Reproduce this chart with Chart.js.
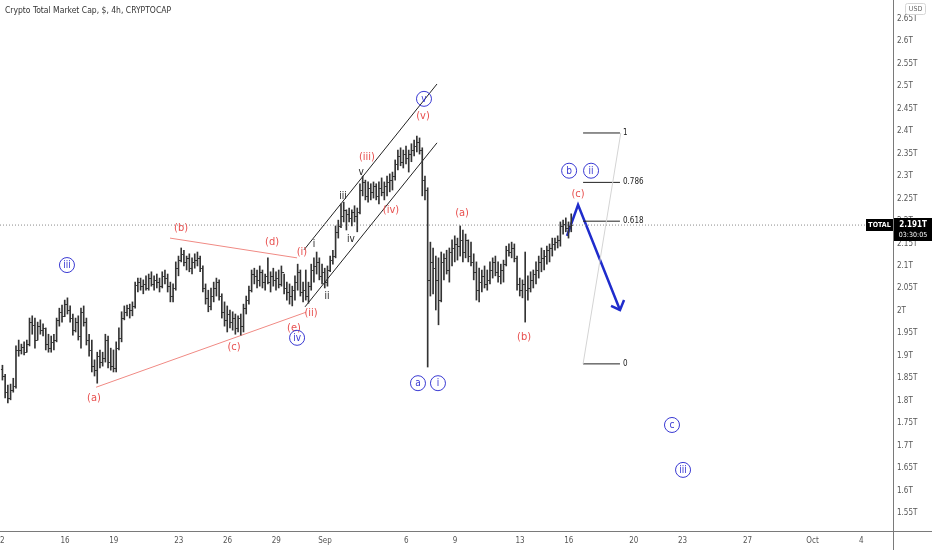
<!DOCTYPE html>
<html>
<head>
<meta charset="utf-8">
<script src="https://cdn.jsdelivr.net/npm/chart.js@4.4.0/dist/chart.umd.min.js"></script>
<style>
  html, body { margin: 0; padding: 0; background: #fff; overflow: hidden; }
</style>
</head>
<body>
<canvas id="chart" width="932" height="550"></canvas>
<script>
const title = 'Crypto Total Market Cap, $, 4h, CRYPTOCAP';

// 4h bars, x counted in days from Aug 12
const firstBarDay = 0.15;
const barsPerDay = 6;
const firstOpen = 1.870;

const highs = [
  1.879,1.859,1.835,1.837,1.850,1.922, 1.935,1.926,1.931,1.935,1.984,1.989,
  1.984,1.975,1.980,1.971,1.962,1.948, 1.944,1.948,1.984,2.006,2.013,2.024,
  2.029,2.011,1.993,1.984,1.989,2.006, 2.011,1.984,1.948,1.935,1.891,1.908,
  1.913,1.908,1.948,1.944,1.917,1.913, 1.931,1.962,1.998,2.011,2.013,2.015,
  2.020,2.064,2.073,2.073,2.069,2.078, 2.082,2.087,2.078,2.082,2.073,2.087,
  2.091,2.082,2.064,2.060,2.109,2.122, 2.140,2.135,2.122,2.127,2.118,2.127,
  2.131,2.122,2.100,2.060,2.046,2.051, 2.064,2.073,2.069,2.038,2.020,2.011,
  2.002,1.998,1.993,1.989,1.993,2.015, 2.033,2.055,2.091,2.095,2.091,2.100,
  2.091,2.082,2.118,2.087,2.095,2.087, 2.091,2.100,2.082,2.064,2.060,2.055,
  2.078,2.104,2.091,2.064,2.091,2.064, 2.104,2.118,2.131,2.118,2.104,2.095,
  2.100,2.122,2.135,2.189,2.202,2.238, 2.242,2.225,2.229,2.225,2.234,2.229,
  2.283,2.300,2.291,2.287,2.283,2.287, 2.283,2.287,2.296,2.287,2.300,2.305,
  2.309,2.336,2.358,2.363,2.358,2.367, 2.358,2.372,2.380,2.389,2.385,2.363,
  2.300,2.274,2.153,2.140,2.122,2.118, 2.131,2.127,2.135,2.140,2.158,2.167,
  2.162,2.189,2.180,2.171,2.158,2.153, 2.127,2.109,2.095,2.091,2.100,2.091,
  2.109,2.118,2.122,2.109,2.104,2.113, 2.144,2.149,2.153,2.149,2.122,2.073,
  2.069,2.131,2.078,2.087,2.091,2.109, 2.122,2.140,2.135,2.144,2.149,2.162,
  2.162,2.167,2.198,2.202,2.207,2.198, 2.216
];
const lows = [
  1.846,1.806,1.795,1.802,1.819,1.828, 1.899,1.904,1.902,1.908,1.922,1.948,
  1.917,1.935,1.948,1.944,1.913,1.908, 1.908,1.913,1.931,1.966,1.975,1.987,
  1.993,1.975,1.946,1.953,1.935,1.917, 1.966,1.924,1.899,1.864,1.855,1.839,
  1.873,1.877,1.886,1.873,1.868,1.864, 1.864,1.913,1.931,1.980,1.989,1.984,
  1.989,2.006,2.042,2.046,2.038,2.046, 2.046,2.055,2.046,2.051,2.042,2.051,
  2.060,2.042,2.020,2.020,2.046,2.078, 2.109,2.100,2.091,2.087,2.082,2.095,
  2.100,2.087,2.042,2.015,1.998,2.002, 2.020,2.033,2.024,1.984,1.966,1.953,
  1.962,1.957,1.948,1.953,1.946,1.953, 1.993,2.015,2.042,2.060,2.051,2.055,
  2.051,2.046,2.060,2.042,2.055,2.046, 2.051,2.055,2.038,2.024,2.015,2.011,
  2.024,2.046,2.033,2.020,2.024,2.017, 2.046,2.064,2.082,2.069,2.060,2.051,
  2.055,2.087,2.104,2.118,2.162,2.185, 2.198,2.180,2.198,2.189,2.198,2.176,
  2.216,2.256,2.247,2.242,2.247,2.251, 2.247,2.238,2.256,2.247,2.256,2.265,
  2.269,2.291,2.314,2.323,2.318,2.327, 2.309,2.332,2.345,2.354,2.349,2.256,
  2.247,1.875,2.033,2.038,2.002,1.969, 2.020,2.069,2.082,2.064,2.100,2.109,
  2.113,2.122,2.109,2.118,2.109,2.100, 2.069,2.024,2.020,2.042,2.051,2.046,
  2.060,2.073,2.078,2.064,2.060,2.064, 2.100,2.122,2.118,2.109,2.046,2.033,
  2.029,1.975,2.024,2.042,2.051,2.060, 2.073,2.087,2.091,2.104,2.109,2.122,
  2.135,2.140,2.144,2.171,2.176,2.162, 2.176
];
const closes = [
  1.855,1.819,1.806,1.824,1.833,1.913, 1.913,1.920,1.908,1.926,1.975,1.969,
  1.935,1.966,1.957,1.962,1.926,1.917, 1.931,1.935,1.980,1.998,1.989,2.015,
  2.002,1.984,1.957,1.975,1.944,1.998, 1.975,1.935,1.913,1.877,1.868,1.899,
  1.886,1.895,1.935,1.886,1.877,1.873, 1.917,1.940,1.984,1.998,2.006,2.002,
  2.011,2.058,2.064,2.055,2.060,2.051, 2.073,2.060,2.069,2.064,2.055,2.078,
  2.073,2.055,2.033,2.051,2.095,2.113, 2.127,2.109,2.118,2.095,2.109,2.113,
  2.118,2.095,2.051,2.029,2.011,2.033, 2.051,2.064,2.033,1.998,1.980,1.993,
  1.975,1.984,1.962,1.984,1.966,2.006, 2.024,2.046,2.082,2.078,2.069,2.087,
  2.064,2.078,2.064,2.078,2.069,2.073, 2.060,2.087,2.051,2.042,2.033,2.046,
  2.064,2.087,2.042,2.046,2.033,2.055, 2.091,2.100,2.109,2.078,2.087,2.064,
  2.091,2.113,2.122,2.176,2.189,2.211, 2.225,2.216,2.207,2.220,2.211,2.220,
  2.269,2.287,2.256,2.274,2.265,2.278, 2.256,2.274,2.265,2.278,2.287,2.291,
  2.300,2.327,2.345,2.332,2.349,2.340, 2.349,2.358,2.367,2.376,2.358,2.291,
  2.269,2.069,2.109,2.095,2.069,2.024, 2.109,2.118,2.091,2.131,2.140,2.149,
  2.144,2.158,2.131,2.158,2.122,2.109, 2.087,2.046,2.064,2.078,2.060,2.069,
  2.091,2.109,2.087,2.078,2.091,2.104, 2.135,2.131,2.140,2.118,2.060,2.046,
  2.060,2.046,2.051,2.069,2.082,2.091, 2.109,2.118,2.122,2.135,2.140,2.149,
  2.153,2.158,2.189,2.193,2.185,2.189, 2.191
];

const tickDays = [0, 4, 7, 11, 14, 17, 20, 25, 28, 32, 35, 39, 42, 46, 50, 53];
const tickLabels = ['12', '16', '19', '23', '26', '29', 'Sep', '6', '9', '13', '16', '20', '23', '27', 'Oct', '4'];
const yTicks = [1.55, 1.6, 1.65, 1.7, 1.75, 1.8, 1.85, 1.9, 1.95, 2, 2.05, 2.1, 2.15, 2.2,
                2.25, 2.3, 2.35, 2.4, 2.45, 2.5, 2.55, 2.6, 2.65];
const xMax = 54.95, yMin = 1.510, yMax = 2.692;

// drawings, [day, price]
const triangleLower = [[5.91, 1.830], [18.83, 1.997]];
const triangleUpper = [[10.46, 2.162], [18.28, 2.118]];
const channelUpper = [[18.71, 2.136], [26.89, 2.505]];
const channelLower = [[18.77, 2.009], [26.89, 2.374]];
const projection = [[34.89, 2.167], [35.57, 2.236], [38.15, 2.002]];
const arrowHead = [[37.60, 2.011], [38.15, 2.002], [38.40, 2.024]];
const fibFrom = 35.88, fibTo = 38.15, fibZero = 1.882, fibOne = 2.396;
const fibRatios = [0, 0.618, 0.786, 1];
const fibLabels = ['0', '0.618', '0.786', '1'];

const redLabels = [
  ['(a)', 5.78, 1.806], ['(b)', 11.14, 2.185], ['(c)', 14.40, 1.920], ['(d)', 16.74, 2.153],
  ['(e)', 18.09, 1.962], ['(i)', 18.58, 2.131], ['(ii)', 19.14, 1.995], ['(iii)', 22.58, 2.343],
  ['(iv)', 24.06, 2.225], ['(v)', 26.03, 2.434], ['(a)', 28.43, 2.218], ['(b)', 32.25, 1.942],
  ['(c)', 35.57, 2.260]
];
const blackLabels = [['i', 19.32, 2.149], ['ii', 20.12, 2.033], ['iii', 21.11, 2.254], ['iv', 21.60, 2.160], ['v', 22.22, 2.309]];
const circleLabels = [
  ['iii', 4.12, 2.102], ['iv', 18.28, 1.940], ['v', 26.09, 2.472], ['a', 25.72, 1.839], ['i', 26.95, 1.839],
  ['b', 35.02, 2.312], ['ii', 36.37, 2.312], ['c', 41.35, 1.746], ['iii', 42.03, 1.646]
];

const FONT = '"Liberation Sans Narrow", "DejaVu Sans Condensed", "Liberation Sans", Arial, sans-serif';
const BAR = '#333';
const RED = '#e8504f';
const BLUE = '#3838d2';

const xs = closes.map((c, i) => firstBarDay + i / barsPerDay);
const opens = closes.map((c, i) => i === 0 ? firstOpen : closes[i - 1]);
const last = closes[closes.length - 1];

function seg(pts, color, width, dash) {
  return {
    type: 'line',
    data: pts.map(([x, y]) => ({ x, y })),
    borderColor: color,
    borderWidth: width,
    borderDash: dash || [],
    pointRadius: 0,
    fill: false,
    tension: 0
  };
}

const fibSets = fibRatios.map(r => {
  const lvl = fibZero + r * (fibOne - fibZero);
  return seg([[fibFrom, lvl], [fibTo, lvl]], '#222', 1);
});

const ohlcTicks = {
  id: 'ohlcTicks',
  afterDatasetsDraw(chart) {
    const { ctx, scales: { x, y } } = chart;
    ctx.save();
    ctx.strokeStyle = BAR;
    ctx.lineWidth = 1;
    ctx.beginPath();
    xs.forEach((d, i) => {
      const px = x.getPixelForValue(d);
      const yo = Math.round(y.getPixelForValue(opens[i])) + 0.5;
      const yc = Math.round(y.getPixelForValue(closes[i])) + 0.5;
      ctx.moveTo(px - 1.5, yo); ctx.lineTo(px, yo);
      ctx.moveTo(px, yc); ctx.lineTo(px + 1.5, yc);
    });
    ctx.stroke();
    ctx.restore();
  }
};

const overlays = {
  id: 'overlays',
  afterDraw(chart) {
    const { ctx, chartArea: a, scales: { x, y } } = chart;
    ctx.save();
    // axis lines
    ctx.strokeStyle = '#7a7a7a';
    ctx.lineWidth = 1;
    ctx.beginPath();
    ctx.moveTo(a.right + 0.5, 0); ctx.lineTo(a.right + 0.5, chart.height);
    ctx.moveTo(0, a.bottom + 0.5); ctx.lineTo(chart.width, a.bottom + 0.5);
    ctx.stroke();

    ctx.textAlign = 'left';
    ctx.textBaseline = 'middle';
    ctx.fillStyle = '#333';
    ctx.font = '8.5px ' + FONT;
    ctx.fillText(title, 5, 11);

    // fib level labels
    ctx.font = '8px ' + FONT;
    ctx.fillStyle = '#222';
    fibRatios.forEach((r, i) => {
      const lvl = fibZero + r * (fibOne - fibZero);
      ctx.fillText(fibLabels[i], x.getPixelForValue(fibTo) + 3, y.getPixelForValue(lvl));
    });

    ctx.textAlign = 'center';
    ctx.font = '11px ' + FONT;
    ctx.fillStyle = RED;
    redLabels.forEach(([t, d, v]) => ctx.fillText(t, x.getPixelForValue(d), y.getPixelForValue(v)));

    ctx.font = '10px ' + FONT;
    ctx.fillStyle = '#222';
    blackLabels.forEach(([t, d, v]) => ctx.fillText(t, x.getPixelForValue(d), y.getPixelForValue(v)));

    ctx.strokeStyle = BLUE;
    ctx.fillStyle = BLUE;
    ctx.font = '10px ' + FONT;
    circleLabels.forEach(([t, d, v]) => {
      const px = x.getPixelForValue(d), py = y.getPixelForValue(v);
      ctx.beginPath();
      ctx.arc(px, py, 7.5, 0, Math.PI * 2);
      ctx.stroke();
      ctx.fillText(t, px, py + 0.5);
    });

    // last price tag
    const py = Math.round(y.getPixelForValue(last));
    ctx.fillStyle = '#000';
    ctx.fillRect(a.right - 27, py - 6, 27, 12);
    ctx.fillRect(a.right + 1, py - 7, chart.width - a.right - 1, 23);
    ctx.fillStyle = '#fff';
    ctx.font = 'bold 7px ' + FONT;
    ctx.fillText('TOTAL', a.right - 13.5, py);
    ctx.font = 'bold 8px ' + FONT;
    ctx.fillText(last.toFixed(3) + 'T', a.right + 20, py);
    ctx.font = '7px ' + FONT;
    ctx.fillText('03:30:05', a.right + 20, py + 10);

    // currency badge
    ctx.strokeStyle = '#d6d6d6';
    ctx.fillStyle = '#666';
    ctx.beginPath();
    ctx.roundRect(a.right + 12.5, 3.5, 20, 11, 2);
    ctx.stroke();
    ctx.font = '7px ' + FONT;
    ctx.fillText('USD', a.right + 22.5, 9.5);
    ctx.restore();
  }
};

new Chart(document.getElementById('chart'), {
  type: 'bar',
  data: {
    datasets: [
      {
        type: 'bar',
        data: xs.map((d, i) => ({ x: d, y: [lows[i], highs[i]] })),
        backgroundColor: BAR,
        borderWidth: 0,
        barThickness: 1,
        grouped: false
      },
      seg([[0, last], [xMax, last]], '#8a8a8a', 1, [1, 2]),
      seg(triangleLower, '#f08a84', 1),
      seg(triangleUpper, '#f08a84', 1),
      seg(channelUpper, '#222', 1),
      seg(channelLower, '#222', 1),
      seg([[fibFrom, fibZero], [fibTo + 0.05, fibOne]], '#d4d4d4', 1),
      ...fibSets,
      seg(projection, '#1f2ccc', 2.5),
      seg(arrowHead, '#1f2ccc', 2.5)
    ]
  },
  options: {
    responsive: false,
    devicePixelRatio: 1,
    animation: false,
    events: [],
    layout: { padding: 0 },
    plugins: { legend: { display: false }, tooltip: { enabled: false } },
    scales: {
      x: {
        type: 'linear',
        min: 0,
        max: xMax,
        offset: false,
        grid: { display: false, drawTicks: false },
        border: { display: false },
        ticks: {
          autoSkip: false,
          maxRotation: 0,
          padding: 5,
          color: '#555',
          font: { size: 8, family: FONT },
          callback: v => tickLabels[tickDays.indexOf(v)] ?? ''
        },
        afterBuildTicks: axis => { axis.ticks = tickDays.map(v => ({ value: v })); },
        afterFit: axis => { axis.height = 19; axis.paddingLeft = 0; axis.paddingRight = 0; }
      },
      y: {
        position: 'right',
        min: yMin,
        max: yMax,
        grid: { display: false, drawTicks: false },
        border: { display: false },
        ticks: {
          autoSkip: false,
          padding: 4,
          color: '#555',
          font: { size: 8, family: FONT },
          callback: v => +v.toFixed(2) + 'T'
        },
        afterBuildTicks: axis => { axis.ticks = yTicks.map(v => ({ value: v })); },
        afterFit: axis => { axis.width = 39; axis.paddingTop = 0; axis.paddingBottom = 0; }
      }
    }
  },
  plugins: [ohlcTicks, overlays]
});
</script>
</body>
</html>
